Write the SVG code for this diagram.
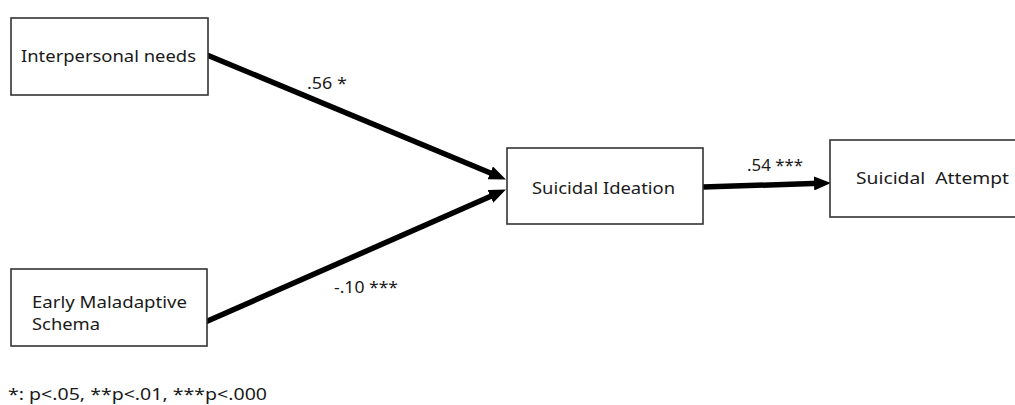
<svg xmlns="http://www.w3.org/2000/svg" width="1015" height="405" viewBox="0 0 1015 405">
<style>
  .box { fill: #ffffff; stroke: #333333; stroke-width: 1.6; }
  .t { font-family: "Noto Sans", "Open Sans", "Liberation Sans", sans-serif; font-size: 16px; fill: #1a1a1a; }
  .lbl { font-family: "Noto Sans", "Open Sans", "Liberation Sans", sans-serif; font-size: 16px; fill: #1a1a1a; }
  .edge { stroke: #000000; stroke-width: 5.5; fill: none; marker-end: url(#ah); }
</style>
<defs>
  <marker id="ah" markerUnits="userSpaceOnUse" markerWidth="18" markerHeight="14" refX="6" refY="7" orient="auto">
    <path d="M0,0 L17,7 L0,14 z" fill="#000000"/>
  </marker>
</defs>
<rect width="1015" height="405" fill="#ffffff"/>
<g id="edges">
  <line class="edge" x1="207" y1="55" x2="495.8" y2="175.2"/>
  <line class="edge" x1="203" y1="323" x2="495.9" y2="194"/>
  <line class="edge" x1="703" y1="187" x2="820" y2="183.3"/>
  <text class="lbl" x="307" y="89" textLength="40" lengthAdjust="spacingAndGlyphs">.56 *</text>
  <text class="lbl" x="334" y="293" textLength="64" lengthAdjust="spacingAndGlyphs">-.10 ***</text>
  <text class="lbl" x="747" y="171" textLength="56" lengthAdjust="spacingAndGlyphs">.54 ***</text>
</g>
<g id="interpersonal">
  <rect class="box" x="11" y="18" width="197" height="77"/>
  <text class="t" x="21" y="62" textLength="175" lengthAdjust="spacingAndGlyphs">Interpersonal needs</text>
</g>
<g id="early">
  <rect class="box" x="11" y="269" width="196" height="77"/>
  <text class="t" x="32" y="308" textLength="155" lengthAdjust="spacingAndGlyphs">Early Maladaptive</text>
  <text class="t" x="32" y="330" textLength="68" lengthAdjust="spacingAndGlyphs">Schema</text>
</g>
<g id="ideation">
  <rect class="box" x="507" y="148" width="196" height="76"/>
  <text class="t" x="532" y="194" textLength="143" lengthAdjust="spacingAndGlyphs">Suicidal Ideation</text>
</g>
<g id="attempt">
  <rect class="box" x="830" y="140" width="200" height="77"/>
  <text class="t" x="856" y="184" textLength="153" lengthAdjust="spacingAndGlyphs" xml:space="preserve">Suicidal  Attempt</text>
</g>
<g id="note">
  <text class="t" x="8" y="400" textLength="259" lengthAdjust="spacingAndGlyphs" style="font-size:17px">*: p&lt;.05, **p&lt;.01, ***p&lt;.000</text>
</g>
</svg>
